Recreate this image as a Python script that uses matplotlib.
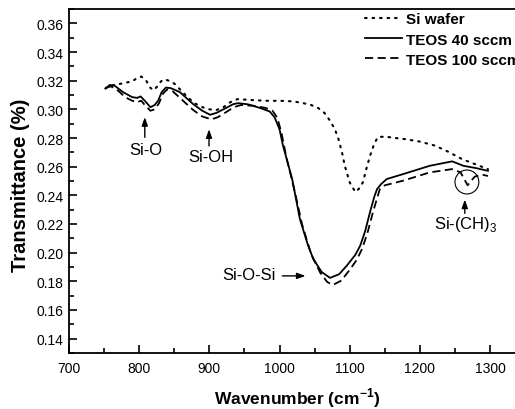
import numpy as np
import matplotlib
matplotlib.use("Agg")
import matplotlib.pyplot as plt
from matplotlib.patches import Ellipse
from matplotlib.ticker import MultipleLocator, FormatStrFormatter

plt.rcParams['font.family'] = ['Liberation Sans', 'DejaVu Sans']

# TEOS 40 sccm (solid)
wn_40 = [752, 758, 765, 777, 790, 797, 802, 808, 816, 822, 827, 832, 838, 845, 858,
         877, 890, 901, 910, 920, 934, 941, 955, 972, 986, 993, 1000, 1005, 1018,
         1029, 1040, 1048, 1060, 1072, 1085, 1096, 1108, 1115, 1122, 1129, 1135,
         1139, 1145, 1153, 1176, 1214, 1246, 1262, 1280, 1297]
t_40 = [0.3145, 0.3170, 0.3165, 0.3120, 0.3085, 0.3080, 0.3090, 0.3060, 0.3015,
        0.3030, 0.3060, 0.3120, 0.3152, 0.3148, 0.3120, 0.3036, 0.2990, 0.2962,
        0.2975, 0.3000, 0.3036, 0.3043, 0.3035, 0.3010, 0.2985, 0.2944, 0.2860,
        0.2746, 0.2514, 0.2235, 0.2060, 0.1957, 0.1865, 0.1824, 0.1850, 0.1910,
        0.1985, 0.2049, 0.2150, 0.2284, 0.2390, 0.2444, 0.2480, 0.2514, 0.2548,
        0.2606, 0.2637, 0.2606, 0.2590, 0.2571]

# TEOS 100 sccm (dashed)
wn_100 = [752, 760, 770, 780, 790, 797, 803, 808, 816, 822, 828, 834, 840, 848, 858,
          877, 890, 903, 912, 922, 935, 945, 963, 980, 990, 997, 1003, 1010, 1022,
          1032, 1045, 1058, 1068, 1076, 1088, 1100, 1110, 1118, 1126, 1133, 1139,
          1143, 1150, 1176, 1214, 1246, 1258, 1268, 1278, 1288, 1297]
t_100 = [0.3150, 0.3160, 0.3130, 0.3085, 0.3060, 0.3050, 0.3060, 0.3030, 0.2990,
         0.3000, 0.3040, 0.3110, 0.3140, 0.3125, 0.3080, 0.2995, 0.2950, 0.2930,
         0.2945, 0.2975, 0.3015, 0.3030, 0.3025, 0.3010, 0.2990, 0.2940, 0.2830,
         0.2660, 0.2420, 0.2200, 0.1990, 0.1860, 0.1795, 0.1775, 0.1805, 0.1880,
         0.1950, 0.2030, 0.2150, 0.2280, 0.2380, 0.2444, 0.2470, 0.2502, 0.2560,
         0.2583, 0.2560, 0.2470, 0.2530, 0.2545, 0.2535]

# Si wafer (dotted)
wn_si = [752, 760, 770, 780, 790, 796, 803, 810, 816, 820, 826, 831, 836, 842, 850,
         860, 870, 880, 890, 900, 910, 920, 930, 940, 960, 980, 1005, 1020, 1034,
         1045, 1054, 1064, 1072, 1079, 1084, 1089, 1093, 1100, 1108, 1114, 1119,
         1124, 1129, 1135, 1140, 1150, 1165, 1179, 1200, 1222, 1240, 1260, 1280, 1297]
t_si = [0.3147, 0.3165, 0.3175, 0.3185, 0.3195, 0.3215, 0.3229, 0.3200, 0.3150,
        0.3133, 0.3160, 0.3195, 0.3210, 0.3200, 0.3180, 0.3130, 0.3080, 0.3040,
        0.3015, 0.3000, 0.2995, 0.3015, 0.3050, 0.3071, 0.3065, 0.3060, 0.3059,
        0.3055, 0.3043, 0.3030, 0.3013, 0.2975, 0.2920, 0.2860, 0.2792, 0.2700,
        0.2606, 0.2490, 0.2423, 0.2450, 0.2493, 0.2590, 0.2676, 0.2760, 0.2806,
        0.2810, 0.2800, 0.2792, 0.2775, 0.2746, 0.2705, 0.2653, 0.2615, 0.2583]

fig = plt.figure(figsize=(5.15, 4.10), dpi=100)
ax = fig.add_axes([0.134, 0.1366, 0.8857, 0.839])

ax.plot(wn_si, t_si, color='black', lw=1.5, linestyle=(0, (0.8, 2.8)),
        dash_capstyle='round', label='Si wafer')
ax.plot(wn_40, t_40, color='black', lw=1.3, label='TEOS 40 sccm')
ax.plot(wn_100, t_100, color='black', lw=1.3, linestyle=(0, (4.5, 2.5)),
        label='TEOS 100 sccm')

ax.set_xlim(700, 1350)
ax.set_ylim(0.13, 0.37)
ax.xaxis.set_major_locator(MultipleLocator(100))
ax.xaxis.set_minor_locator(MultipleLocator(50))
ax.yaxis.set_major_locator(MultipleLocator(0.02))
ax.yaxis.set_minor_locator(MultipleLocator(0.01))
ax.tick_params(which='both', direction='in', top=False, right=False,
               width=1.2, labelsize=10)
ax.tick_params(which='major', length=6)
ax.tick_params(which='minor', length=3.5)
ax.tick_params(axis='x', pad=6)
ax.tick_params(axis='y', pad=4)
ax.yaxis.set_major_formatter(FormatStrFormatter('%.2f'))
for s in ax.spines.values():
    s.set_linewidth(1.3)

ax.set_xlabel('Wavenumber (cm$^{\\mathregular{-1}}$)', fontsize=12.5, fontweight='bold')
ax.xaxis.set_label_coords(0.5, -0.093)
ax.set_ylabel('Transmittance (%)', fontsize=14.5, fontweight='bold')
ax.yaxis.set_label_coords(-0.085, 0.49)

arrow = dict(arrowstyle='-|>,head_length=0.5,head_width=0.18', color='black', lw=1.0)
ax.annotate('', xy=(808, 0.2965), xytext=(808, 0.2785), arrowprops=arrow)
ax.text(809, 0.2723, 'Si-O', ha='center', va='center', fontsize=12)
ax.annotate('', xy=(899.5, 0.2880), xytext=(899.5, 0.2725), arrowprops=arrow)
ax.text(902, 0.2674, 'Si-OH', ha='center', va='center', fontsize=12)
ax.annotate('', xy=(1041, 0.1838), xytext=(1000, 0.1838), arrowprops=arrow)
ax.text(994, 0.1845, 'Si-O-Si', ha='right', va='center', fontsize=12)
ax.annotate('', xy=(1264, 0.2390), xytext=(1264, 0.2255), arrowprops=arrow)
ax.text(1266, 0.2200, 'Si-(CH)$_{\\mathregular{3}}$', ha='center', va='center', fontsize=12)
ax.add_patch(Ellipse((1267, 0.2493), 34, 0.0167, fill=False, color='black', lw=0.8))

ax.legend(loc='upper left', bbox_to_anchor=(0.649, 0.99), frameon=False,
          borderpad=0, borderaxespad=0,
          handlelength=2.4, handletextpad=0.3, labelspacing=0.4,
          prop={'weight': 'bold', 'size': 11})

fig.savefig('out.png', dpi=100)
